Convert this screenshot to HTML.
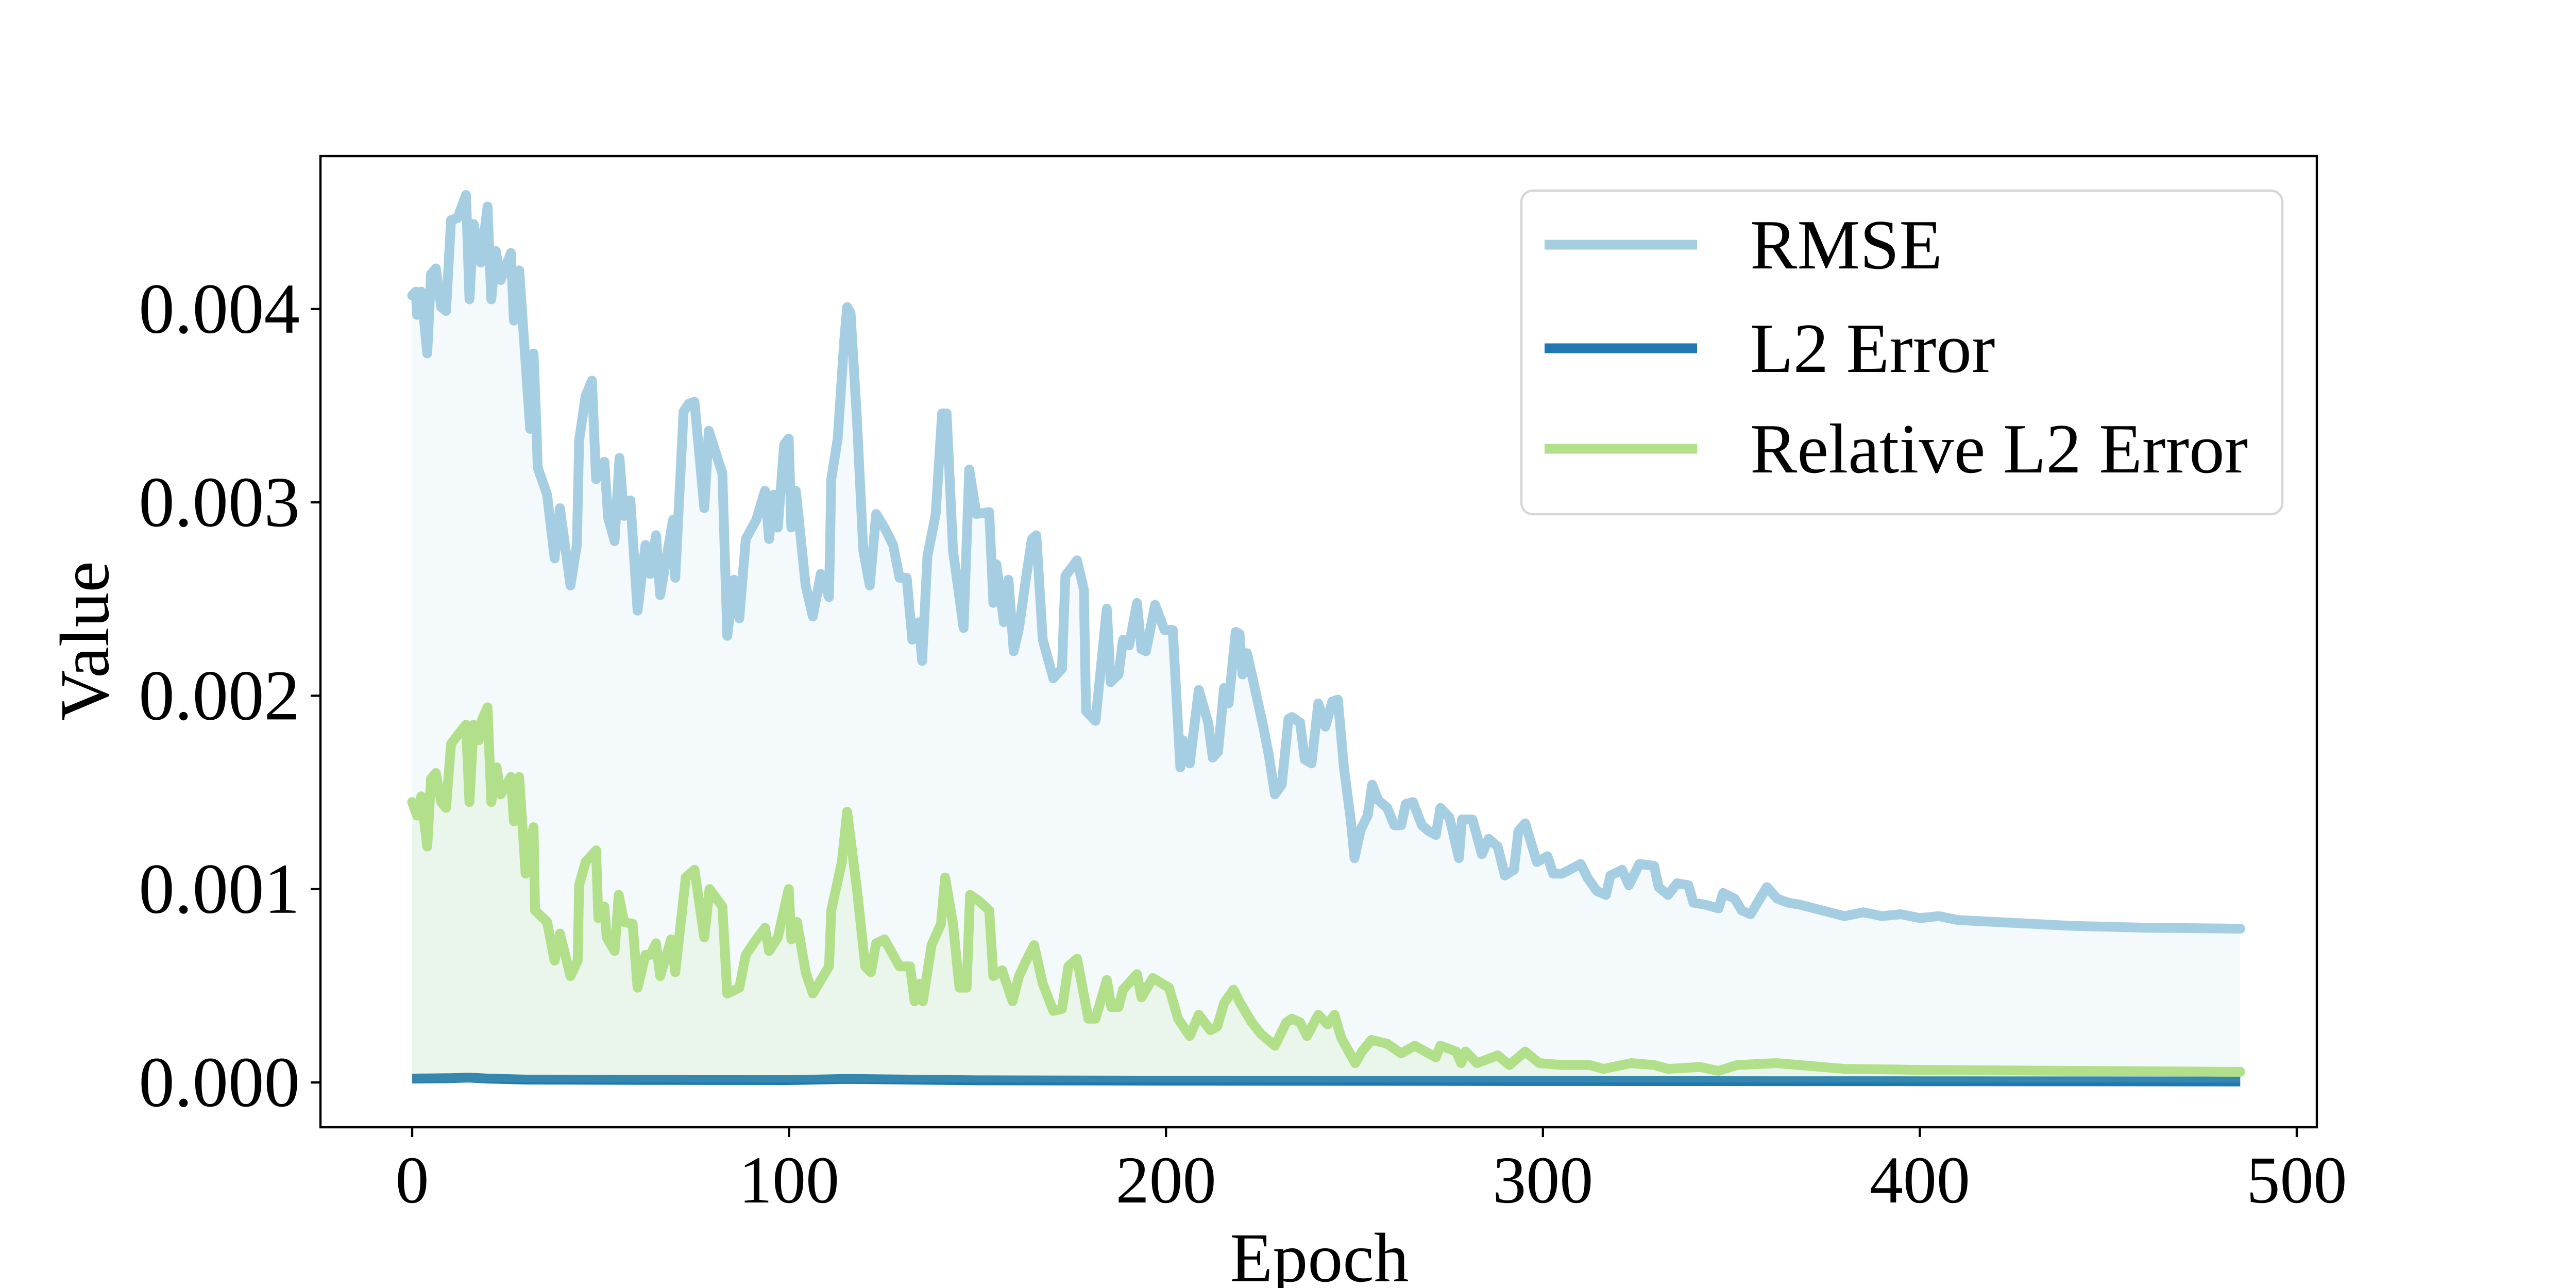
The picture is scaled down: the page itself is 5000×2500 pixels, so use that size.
<!DOCTYPE html>
<html><head><meta charset="utf-8"><style>
html,body{margin:0;padding:0;background:#fff;}
svg{display:block;font-family:"Liberation Serif","DejaVu Serif",serif;}
</style></head><body>
<svg id="chart" width="5000" height="2500" viewBox="0 0 5000 2500" xmlns="http://www.w3.org/2000/svg">
<rect width="5000" height="2500" fill="#fff"/>
<g id="plot"></g>
<g id="axes"></g>
<g id="legend"></g>
</svg>
<script>
// ---- data (values in units of 0.001) ----
const rmseEpochs=[0,1,1.3,2.4,4,5,6.3,7.7,9,10.3,12,14.3,15.2,16.3,18.2,20,21,22.2,23.5,26.2,27,28.4,31.3,32.2,33,33.3,35.8,37.8,39.2,42,43.7,44.3,46,47.7,48.8,51,52,53.7,55,56.2,57.9,59.8,61.9,63.2,64.7,65.8,69.2,69.8,72,73.4,74.9,77.5,78.7,80,82.3,83.6,85.4,86.8,88.5,91.3,93.6,94.7,95.9,97,98.7,99.9,100.6,101.8,104.4,106.3,108.4,110.6,111.2,112.9,114.6,115.4,116.3,118,119.7,121.4,123.1,125.3,127.6,129.3,131.2,132.7,134.4,135.3,136.7,138.9,140.6,141.8,143.5,146.3,147.8,149.7,153.1,154.2,155,157,158.2,159.6,161,162.8,164.4,165.6,167.3,170.1,172.4,173.3,176.4,178.2,178.8,181.3,184.3,185.3,187.4,188.6,190.2,192.3,193.5,194.7,197.1,199.6,201.8,203.8,204.5,206.3,208.7,211.2,212.4,213.8,215.4,216.6,218.5,219.5,220.3,221.5,224,225.8,227.3,228.9,230.7,232.5,233.4,235.6,236.8,238.6,240.4,242.3,244.1,245.6,247.2,249,250,251.7,253.5,254.7,256.3,258.7,260.6,262.4,263.6,265.5,267.9,269.7,271.6,272.8,275.2,277.7,278.5,281.3,283.8,285.6,288,289.9,292.3,293.5,295.3,298.4,301.2,302.7,305.1,310,311.8,314.3,316.7,317.9,321,322.8,325.6,329.5,330.7,333.2,335.6,338.6,339.9,342.9,346.6,347.8,350.9,352.7,355.1,359.4,362.2,365,368,372,376,380,385,390,395,400,405,410,420,440,460,485];
const rmseValues=[4.07,4.09,3.97,4.09,3.77,4.18,4.21,4.01,3.99,4.46,4.47,4.59,4.05,4.44,4.24,4.53,4.05,4.30,4.15,4.29,3.94,4.20,3.38,3.77,3.38,3.18,3.04,2.71,2.97,2.57,2.78,3.32,3.55,3.63,3.12,3.21,2.92,2.80,3.23,2.93,3.01,2.44,2.78,2.63,2.83,2.52,2.91,2.61,3.47,3.51,3.52,2.97,3.37,3.29,3.15,2.31,2.60,2.40,2.81,2.91,3.06,2.81,3.04,2.87,3.30,3.33,2.87,3.06,2.57,2.41,2.63,2.51,3.12,3.33,3.83,4.01,3.98,3.43,2.75,2.57,2.94,2.87,2.78,2.61,2.61,2.29,2.38,2.18,2.72,2.94,3.46,3.46,2.75,2.35,3.17,2.94,2.95,2.48,2.68,2.38,2.60,2.23,2.35,2.60,2.81,2.83,2.29,2.09,2.14,2.62,2.70,2.55,1.92,1.87,2.45,2.07,2.11,2.29,2.26,2.48,2.24,2.23,2.47,2.34,2.34,1.63,1.77,1.65,2.03,1.86,1.68,1.71,2.04,1.96,2.33,2.32,2.11,2.22,2.00,1.84,1.69,1.49,1.54,1.88,1.89,1.86,1.67,1.65,1.96,1.84,1.97,1.98,1.63,1.36,1.16,1.31,1.38,1.54,1.46,1.42,1.33,1.33,1.44,1.45,1.33,1.30,1.28,1.42,1.37,1.16,1.36,1.36,1.18,1.26,1.22,1.07,1.10,1.30,1.34,1.14,1.17,1.08,1.08,1.13,1.06,0.99,0.97,1.07,1.10,1.02,1.13,1.12,1.01,0.97,1.03,1.02,0.93,0.92,0.90,0.98,0.95,0.89,0.87,1.01,0.95,0.93,0.92,0.90,0.88,0.86,0.88,0.86,0.87,0.85,0.86,0.84,0.83,0.81,0.80,0.795];
const relEpochs=[0,1.3,2.4,4,5,6.3,7.7,9,10.3,12.2,14.3,15.2,16.3,17.7,18.6,20,21,22.4,23.5,26.2,27,28.4,30.1,32.2,32.6,35.8,37.8,39.2,42,43.9,44.3,46,48.8,49.4,51,51.6,53.7,54.8,56.2,58.5,59.8,61.9,63.2,64.7,65.8,68.7,69.8,72.6,74.9,77.5,78.9,82.3,83.6,86.8,88.5,91.3,93.6,94.7,97,99.9,100.6,102.1,104.4,106.3,110.6,111.2,114,115.4,118,120.2,121.7,123.1,125.3,129.3,132.1,133.3,134.6,135.5,137.8,140.3,141.4,143.5,145.2,147.1,148,150.3,153.1,154.2,156.5,159.3,161,162.9,165,167.3,170.1,172.4,174.1,176.4,179.4,181.3,184.3,185.5,187.4,188.6,192.3,193.5,196.5,200.8,203.2,206.3,208.7,211.8,213.6,215.4,217.9,219.7,222.8,225.2,228.9,231.9,233.4,235.6,237.4,240.4,242.9,244.7,246.5,250.2,252,254.5,258.7,262.4,266,271.6,272.8,277,278.3,279.5,282.5,288,291.1,295.3,299,305.1,312.4,316.1,323.4,329.5,333.2,341.7,346.6,351.5,362,380,400,440,485];
const relValues=[1.45,1.38,1.48,1.22,1.57,1.60,1.45,1.42,1.75,1.80,1.85,1.45,1.85,1.77,1.88,1.94,1.45,1.63,1.49,1.58,1.35,1.58,1.08,1.32,0.89,0.83,0.63,0.77,0.55,0.63,1.02,1.14,1.20,0.85,0.91,0.75,0.68,0.97,0.83,0.82,0.49,0.66,0.66,0.72,0.55,0.74,0.57,1.06,1.10,0.75,1.00,0.91,0.46,0.49,0.66,0.74,0.80,0.68,0.75,1.00,0.74,0.83,0.57,0.46,0.60,0.89,1.14,1.40,1.00,0.60,0.57,0.72,0.74,0.60,0.60,0.42,0.51,0.42,0.71,0.82,1.06,0.82,0.49,0.49,0.97,0.94,0.89,0.55,0.58,0.42,0.55,0.63,0.71,0.51,0.37,0.38,0.60,0.64,0.33,0.33,0.53,0.39,0.39,0.48,0.56,0.44,0.54,0.49,0.33,0.24,0.35,0.27,0.29,0.41,0.48,0.41,0.31,0.25,0.19,0.31,0.33,0.31,0.24,0.35,0.30,0.35,0.23,0.10,0.16,0.22,0.20,0.15,0.19,0.13,0.19,0.16,0.10,0.16,0.10,0.14,0.09,0.16,0.10,0.09,0.09,0.07,0.10,0.09,0.07,0.08,0.06,0.09,0.10,0.07,0.065,0.06,0.055];
const l2Epochs=[0,10,15,20,30,60,100,115,150,200,250,300,400,485];
const l2Values=[0.02,0.022,0.025,0.02,0.015,0.013,0.012,0.018,0.011,0.009,0.008,0.007,0.006,0.005];
const xTicks=[0,100,200,300,400,500];
const yTicks=[0,1,2,3,4];
const yTickLabels=["0.000","0.001","0.002","0.003","0.004"];
const legendLabels=["RMSE","L2 Error","Relative L2 Error"];
const seriesColors=["#a6cee3","#1f78b4","#b2df8a"];

// ---- axes functions ----
const AX={l:622,r:4497,t:303,b:2188};
function xs(e){return 800+e*7.316;}
function ys(v){return 2101-v*375.3;}
const NS="http://www.w3.org/2000/svg";
function mk(tag,attrs,parent){const el=document.createElementNS(NS,tag);for(const k in attrs)el.setAttribute(k,attrs[k]);parent.appendChild(el);return el;}
const plot=document.getElementById('plot'),axes=document.getElementById('axes'),legend=document.getElementById('legend');

function pts(E,V){return E.map((e,i)=>xs(e).toFixed(1)+','+ys(V[i]).toFixed(1)).join(' ');}
function fillPts(E,V){return xs(E[0]).toFixed(1)+','+ys(0)+' '+pts(E,V)+' '+xs(E[E.length-1]).toFixed(1)+','+ys(0);}

let f=mk('polygon',{points:fillPts(rmseEpochs,rmseValues),fill:seriesColors[0],'fill-opacity':0.12},plot);


let l=mk('polyline',{points:pts(rmseEpochs,rmseValues),fill:'none',stroke:seriesColors[0],'stroke-width':19,'stroke-linejoin':'round','stroke-linecap':'round'},plot);


l=mk('polyline',{points:pts(l2Epochs,l2Values),fill:'none',stroke:seriesColors[1],'stroke-width':19,'stroke-linejoin':'round'},plot);


f=mk('polygon',{points:fillPts(relEpochs,relValues),fill:seriesColors[2],'fill-opacity':0.15},plot);


l=mk('polyline',{points:pts(relEpochs,relValues),fill:'none',stroke:seriesColors[2],'stroke-width':19,'stroke-linejoin':'round','stroke-linecap':'round'},plot);



let fr=mk('rect',{x:AX.l,y:AX.t,width:AX.r-AX.l,height:AX.b-AX.t,fill:'none',stroke:'#000','stroke-width':4.4},axes);


xTicks.forEach(t=>{
  const x=xs(t);
  const tk=mk('line',{x1:x,x2:x,y1:AX.b,y2:AX.b+19,stroke:'#000','stroke-width':4.4},axes);
  
  
  const tx=mk('text',{x:x,y:2334,'font-size':130,'text-anchor':'middle',fill:'#000'},axes);
  tx.textContent=t;
  
  
});
yTicks.forEach((t,i)=>{
  const y=ys(t);
  const tk=mk('line',{x1:AX.l-19,x2:AX.l,y1:y,y2:y,stroke:'#000','stroke-width':4.4},axes);
  
  
  const tx=mk('text',{x:582,y:y+46,'font-size':139,'text-anchor':'end',fill:'#000'},axes);
  tx.textContent=yTickLabels[i];
  
  
});
let xt=mk('text',{x:2561,y:2487,'font-size':136,'text-anchor':'middle',fill:'#000'},axes);
xt.textContent='Epoch';


let yt=mk('text',{x:0,y:0,'font-size':136,'text-anchor':'middle',fill:'#000',transform:'translate(210,1244) rotate(-90)'},axes);
yt.textContent='Value';



let lb=mk('rect',{x:2953,y:370,width:1477,height:628,rx:22,fill:'#fff','fill-opacity':0.8,stroke:'#d6d6d6','stroke-width':4.4},legend);


const legY=[475,676,871];
legendLabels.forEach((s,i)=>{
  const ln=mk('line',{x1:2998,x2:3294,y1:legY[i],y2:legY[i],stroke:seriesColors[i],'stroke-width':19},legend);
  
  
  const tx=mk('text',{x:3397,y:legY[i]+46,'font-size':137,fill:'#000'},legend);
  tx.textContent=s;
  
  
});
</script>
</body></html>
